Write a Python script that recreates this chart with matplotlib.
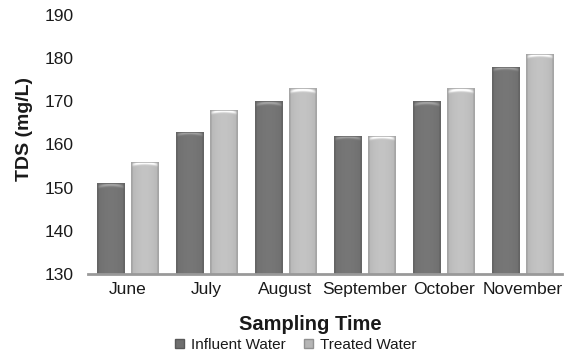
import numpy as np
import matplotlib.pyplot as plt
from matplotlib.patches import Rectangle

plt.rcParams['font.family'] = ['Liberation Sans', 'DejaVu Sans']

months = ['June', 'July', 'August', 'September', 'October', 'November']
influent = [151, 163, 170, 162, 170, 178]
treated = [156, 168, 173, 162, 173, 181]

base_dark = np.array([0.43, 0.43, 0.43])
base_light = np.array([0.71, 0.71, 0.71])


def shaded_bar(ax, x, h, width, color, bottom=130):
    # horizontal shading: darker edges, brighter middle
    n = 64
    t = np.linspace(-1, 1, n)
    shade = 1.0 + 0.08 * (1 - t ** 2) - 0.10 * (np.abs(t) > 0.9)
    img = np.clip(color[None, :] * shade[:, None], 0, 1)[None, :, :]
    x0 = x - width / 2
    im = ax.imshow(img, extent=[x0, x0 + width, bottom, h], aspect='auto',
                   interpolation='bilinear', zorder=2)
    im.set_clip_path(Rectangle((x0, bottom), width, h - bottom,
                               transform=ax.transData))
    # bevelled top: bright glint in the middle fading downwards
    cap = 1.5
    m = 24
    ty = np.linspace(0, 1, m)[:, None]
    tx = t[None, :]
    glint = np.exp(-((ty - 0.25 - 0.35 * tx ** 2) / 0.22) ** 2) * (1 - tx ** 4)
    cap_shade = shade[None, :] + 0.45 * glint
    cap_shade[0, :] = 1.15
    cap_img = np.clip(color[None, None, :] * cap_shade[:, :, None], 0, 1)
    im2 = ax.imshow(cap_img, extent=[x0, x0 + width, h - cap, h],
                    aspect='auto', interpolation='bilinear', zorder=3)
    im2.set_clip_path(Rectangle((x0, h - cap), width, cap,
                                transform=ax.transData))
    ax.add_patch(Rectangle((x0, bottom), width, h - bottom, fill=False,
                           edgecolor=color * 0.92, linewidth=0.5, zorder=4))


fig = plt.figure(figsize=(5.76, 3.56), dpi=100)
ax = fig.add_axes([88 / 576, 1 - 274 / 356, 474 / 576, 259 / 356])

x = np.arange(len(months))
w = 0.35
off = 0.213
for i in range(len(months)):
    shaded_bar(ax, x[i] - off, influent[i], w, base_dark)
    shaded_bar(ax, x[i] + off, treated[i], w, base_light)

ax.set_xlim(-0.5, len(months) - 0.5)
ax.set_ylim(130, 190)
ax.set_yticks(range(130, 191, 10))
ax.set_xticks(x)
ax.set_xticklabels(months)
ax.tick_params(axis='both', length=0, labelsize=12.5, colors='#1a1a1a')
ax.tick_params(axis='y', pad=10)
ax.tick_params(axis='x', pad=6)
for s in ['top', 'right', 'left']:
    ax.spines[s].set_visible(False)
ax.spines['bottom'].set_color('#999999')
ax.spines['bottom'].set_linewidth(2)
ax.spines['bottom'].set_zorder(5)

ax.set_ylabel('TDS (mg/L)', fontsize=14, fontweight='bold', color='#1a1a1a')
ax.yaxis.set_label_coords(-0.116, 0.558)
ax.set_xlabel('Sampling Time', fontsize=14.5, fontweight='bold', color='#1a1a1a')
ax.xaxis.set_label_coords(0.47, -0.158)

# legend with small shaded squares
handles = [Rectangle((0, 0), 1, 1, facecolor=base_dark, edgecolor=base_dark * 0.8),
           Rectangle((0, 0), 1, 1, facecolor=base_light, edgecolor=base_light * 0.8)]
fig.legend(handles, ['Influent Water', 'Treated Water'], loc='center',
           bbox_to_anchor=(296 / 576, 1 - 345 / 356), ncol=2, frameon=False,
           fontsize=11, handlelength=0.55, handleheight=0.55, handletextpad=0.5,
           columnspacing=1.2, labelcolor='#1a1a1a')

fig.savefig('out.png', dpi=100)
